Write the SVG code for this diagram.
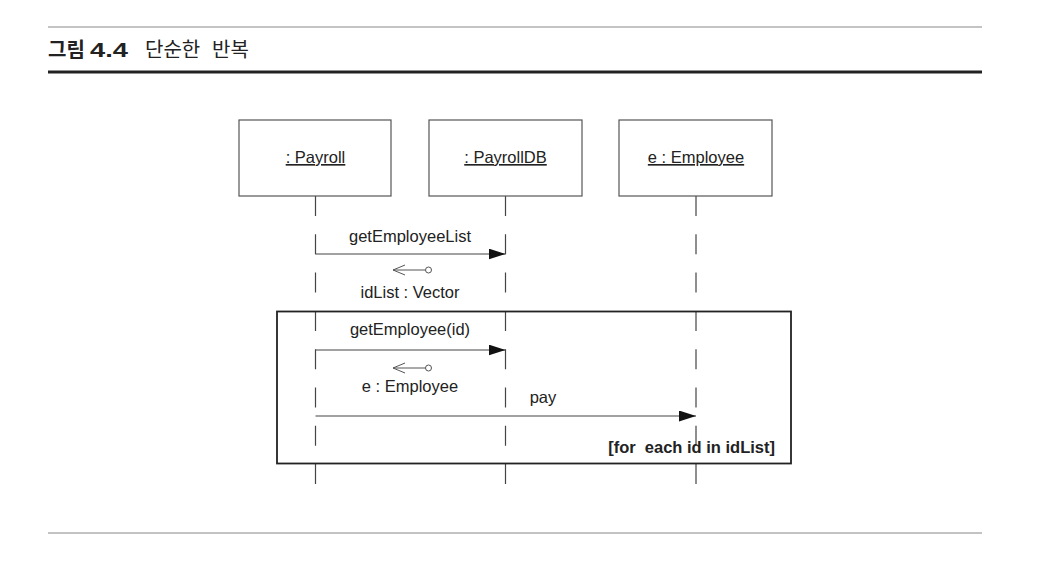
<svg xmlns="http://www.w3.org/2000/svg" width="1046" height="578" viewBox="0 0 1046 578">
<defs>
<style>
.t{font-family:"Liberation Sans",Arial,sans-serif;font-size:16.5px;fill:#222}
.u{text-decoration:underline}
.b{font-weight:bold}
.h{font-family:"Noto Sans CJK KR","Noto Sans",sans-serif;font-size:20px;fill:#222}
.box{fill:#fff;stroke:#555;stroke-width:1.2}
.life{stroke:#444;stroke-width:1.2;stroke-dasharray:20 18.3;fill:none}
.msg{stroke:#444;stroke-width:1.2;fill:none}
.ret{stroke:#555;stroke-width:1;fill:none}
</style>
<marker id="fa" viewBox="0 0 17 11" refX="17" refY="5.5" markerWidth="17" markerHeight="11" markerUnits="userSpaceOnUse" orient="auto">
<path d="M0,0 L17,5.5 L0,11 Z" fill="#111"/>
</marker>
</defs>
<rect width="1046" height="578" fill="#fff"/>
<g id="header">
<line x1="48" y1="27" x2="982" y2="27" stroke="#888" stroke-width="1"/>
<text class="h b" x="48" y="57">그림</text>
<text x="90" y="57" textLength="38" lengthAdjust="spacingAndGlyphs" style="font-family:'Liberation Sans',Arial,sans-serif;font-size:21px;font-weight:bold;fill:#222">4.4</text>
<text class="h" x="145" y="57">단순한</text>
<text class="h" x="212" y="57">반복</text>
<line x1="48" y1="72" x2="982" y2="72" stroke="#222" stroke-width="3"/>
</g>
<g id="connectors">
<line class="life" x1="315.5" y1="196" x2="315.5" y2="484"/>
<line class="life" x1="505.5" y1="196" x2="505.5" y2="484"/>
<line class="life" x1="696" y1="196" x2="696" y2="484"/>
<line class="msg" x1="315.5" y1="254" x2="505.5" y2="254" marker-end="url(#fa)"/>
<path class="ret" d="M393,270 H425.5 M405,265 L393,270 L405,275"/>
<circle class="ret" cx="428.5" cy="270" r="3" fill="#fff"/>
<line class="msg" x1="315.5" y1="350" x2="505.5" y2="350" marker-end="url(#fa)"/>
<path class="ret" d="M393,368 H425.5 M405,363 L393,368 L405,373"/>
<circle class="ret" cx="428.5" cy="368" r="3" fill="#fff"/>
<line class="msg" x1="315.5" y1="416" x2="696" y2="416" marker-end="url(#fa)"/>
</g>
<g id="frame">
<rect x="277" y="311.5" width="514" height="152" fill="none" stroke="#222" stroke-width="1.8"/>
<text class="t b" x="775" y="453" text-anchor="end" xml:space="preserve" style="white-space:pre">[for  each id in idList]</text>
</g>
<g id="payroll">
<rect class="box" x="239" y="120" width="152" height="76"/>
<text class="t u" x="315.5" y="163" text-anchor="middle">: Payroll</text>
</g>
<g id="payrolldb">
<rect class="box" x="429" y="120" width="153" height="76"/>
<text class="t u" x="505.5" y="163" text-anchor="middle">: PayrollDB</text>
</g>
<g id="employee">
<rect class="box" x="619" y="120" width="153" height="76"/>
<text class="t u" x="696" y="163" text-anchor="middle">e : Employee</text>
</g>
<g id="labels">
<text class="t" x="410" y="242" text-anchor="middle">getEmployeeList</text>
<text class="t" x="410" y="298" text-anchor="middle">idList : Vector</text>
<text class="t" x="410" y="335" text-anchor="middle">getEmployee(id)</text>
<text class="t" x="410" y="392" text-anchor="middle">e : Employee</text>
<text class="t" x="543" y="403" text-anchor="middle">pay</text>
</g>
<line x1="48" y1="533" x2="982" y2="533" stroke="#888" stroke-width="1"/>
</svg>
